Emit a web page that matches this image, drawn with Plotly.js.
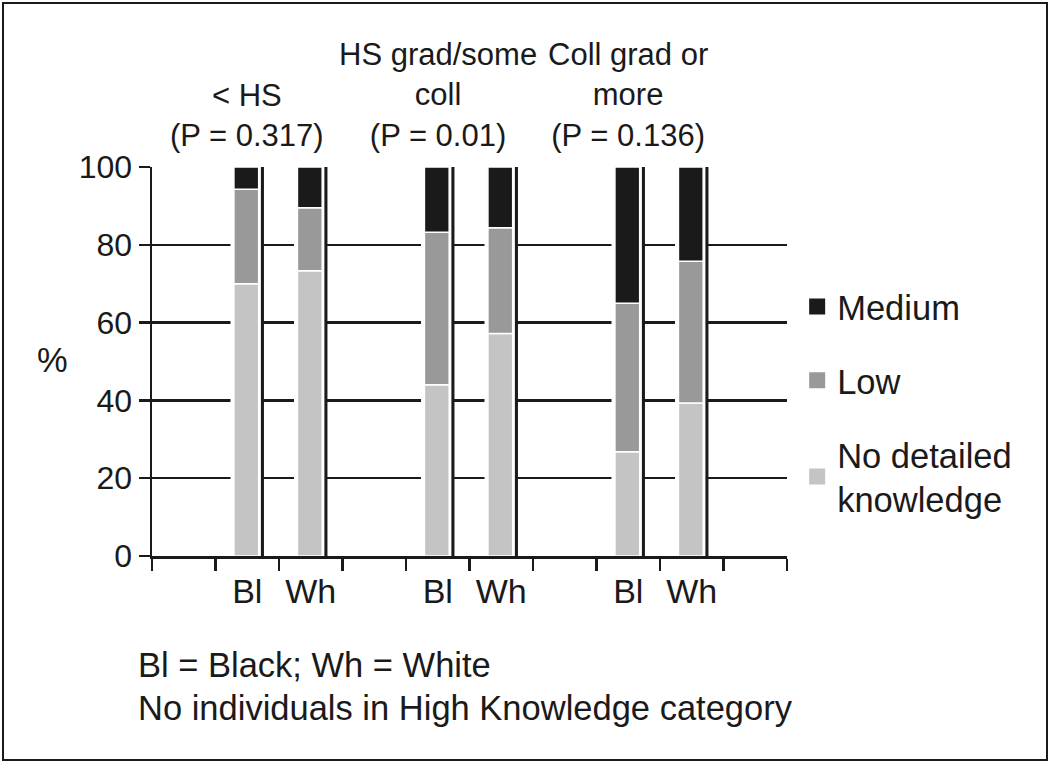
<!DOCTYPE html>
<html>
<head>
<meta charset="utf-8">
<script src="https://cdn.plot.ly/plotly-3.0.1.min.js"></script>
<style>
  html, body { margin: 0; padding: 0; background: #fff; }
  #wrap { position: relative; width: 1050px; height: 763px; }
  #chart { width: 1050px; height: 763px; }
  #frame { position: absolute; left: 2px; top: 2px; width: 1046px; height: 759px;
           box-sizing: border-box; border: 2px solid #1a1a1a; pointer-events: none; }
</style>
</head>
<body>
<div id="wrap"><div id="chart"></div><div id="frame"></div></div>
<script>
// ---- data ----
const slotCount = 10;                       // slots along the x axis
const barPos = [1, 2, 4, 5, 7, 8];          // slot index of each bar
const barLabels = ['Bl', 'Wh', 'Bl', 'Wh', 'Bl', 'Wh'];
const groupPos = [1, 4, 7];
const groupLabels = ['< HS<br>(P = 0.317)', 'HS grad/some<br>coll<br>(P = 0.01)', 'Coll grad or<br>more<br>(P = 0.136)'];
const noDetailed = [70, 73.3, 44, 57.2, 26.8, 39.3];
const low = [24.3, 16.2, 39.2, 27.2, 38.2, 36.5];
const medium = [5.7, 10.5, 16.8, 15.6, 35, 24.2];
const seriesNames = ['No detailed<br>knowledge', 'Low', 'Medium'];
const seriesColors = ['#c4c4c4', '#999999', '#1a1a1a'];
const footnotes = ['Bl = Black; Wh = White', 'No individuals in High Knowledge category'];

// ---- derived ----
const baseLow = noDetailed.map((v) => v);
const baseMed = noDetailed.map((v, i) => v + low[i]);
const totals = noDetailed.map((v, i) => v + low[i] + medium[i]);
const zeros = barPos.map(() => 0);

const ink = '#1a1a1a';
const fam = 'Liberation Sans, Arial, sans-serif';
const font = { family: fam, size: 31, color: ink };
const bigFont = { family: fam, size: 34.5, color: ink };

const barW = 0.39, barOff = -0.21;
const traces = [
  { // white halo behind each bar (breaks the gridlines)
    type: 'bar', x: barPos, y: totals, base: zeros, width: 0.46, offset: -0.24,
    marker: { color: '#ffffff', line: { color: '#ffffff', width: 3 } },
    showlegend: false, hoverinfo: 'skip'
  },
  {
    type: 'bar', name: seriesNames[0], x: barPos, y: noDetailed, base: zeros,
    width: barW, offset: barOff, showlegend: false,
    marker: { color: seriesColors[0], line: { color: '#ffffff', width: 1.5 } }
  },
  {
    type: 'bar', name: seriesNames[1], x: barPos, y: low, base: baseLow,
    width: barW, offset: barOff, showlegend: false,
    marker: { color: seriesColors[1], line: { color: '#ffffff', width: 1.5 } }
  },
  {
    type: 'bar', name: seriesNames[2], x: barPos, y: medium, base: baseMed,
    width: barW, offset: barOff, showlegend: false,
    marker: { color: seriesColors[2], line: { color: '#ffffff', width: 1.5 } }
  },
  { // dark side edge of each bar
    type: 'bar', x: barPos, y: totals, base: zeros, width: 0.048, offset: 0.215,
    xaxis: 'x2', marker: { color: ink, line: { width: 0 } },
    showlegend: false, hoverinfo: 'skip'
  }
];
// legend entries (square swatches), listed top to bottom: Medium, Low, No detailed
[2, 1, 0].forEach((i) => {
  traces.push({ type: 'scatter', mode: 'markers', x: [null], y: [null], name: seriesNames[i],
    legendgroup: 'g' + i, showlegend: true,
    marker: { symbol: 'square', size: 20, color: seriesColors[i], line: { width: 0 } } });
});

const annotations = [];
groupPos.forEach((p, i) => {
  annotations.push({ xref: 'x', yref: 'paper', x: p, y: 1.03, xanchor: 'center', yanchor: 'bottom',
    text: groupLabels[i], showarrow: false, font: font, align: 'center' });
});
annotations.push({ xref: 'paper', yref: 'paper', x: -0.157, y: 0.504, text: '%', showarrow: false,
  font: bigFont, xanchor: 'center', yanchor: 'middle' });
annotations.push({ xref: 'paper', yref: 'paper', x: -0.025, y: -0.28, text: footnotes[0], showarrow: false,
  font: bigFont, xanchor: 'left', yanchor: 'middle', align: 'left' });
annotations.push({ xref: 'paper', yref: 'paper', x: -0.025, y: -0.392, text: footnotes[1], showarrow: false,
  font: bigFont, xanchor: 'left', yanchor: 'middle', align: 'left' });

const xRange = [-0.5, slotCount - 0.5];
const layout = {
  width: 1050, height: 763,
  margin: { l: 152, r: 263, t: 167, b: 207, pad: 0 },
  paper_bgcolor: '#ffffff', plot_bgcolor: '#ffffff',
  font: font,
  barmode: 'overlay',
  showlegend: true,
  legend: { x: 1.016, xanchor: 'left', y: 0.716, yanchor: 'top', traceorder: 'grouped',
    tracegroupgap: 26, font: bigFont, bgcolor: 'rgba(0,0,0,0)', itemclick: false },
  xaxis: {
    range: xRange, tickmode: 'linear', tick0: -0.5, dtick: 1,
    showticklabels: false, ticks: 'outside', ticklen: 12, tickwidth: 2.5, tickcolor: ink,
    showline: true, linecolor: ink, linewidth: 2.5, showgrid: false, zeroline: false, fixedrange: true
  },
  xaxis2: {
    overlaying: 'x', range: xRange, side: 'bottom', tickmode: 'array',
    tickvals: barPos, ticktext: barLabels, ticks: 'outside', ticklen: 5, tickcolor: 'rgba(0,0,0,0)',
    showline: false, showgrid: false, zeroline: false, tickfont: { family: fam, size: 34, color: ink },
    fixedrange: true
  },
  yaxis: {
    range: [0, 100], tickmode: 'linear', tick0: 0, dtick: 20,
    ticks: 'outside', ticklen: 11, tickwidth: 2.5, tickcolor: ink,
    showline: true, linecolor: ink, linewidth: 2.5,
    showgrid: true, gridcolor: ink, gridwidth: 2.5, zeroline: false,
    tickfont: { family: fam, size: 32, color: ink }, fixedrange: true
  },
  annotations: annotations
};

Plotly.newPlot('chart', traces, layout, { displayModeBar: false, staticPlot: true });
</script>
</body>
</html>
